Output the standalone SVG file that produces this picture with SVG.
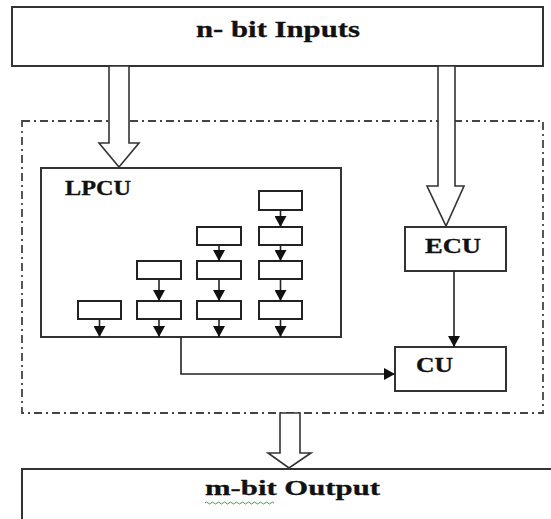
<svg xmlns="http://www.w3.org/2000/svg" width="551" height="519" viewBox="0 0 551 519">
<defs>
<style>
.box{fill:#fff;stroke:#333;stroke-width:2}
.cell{fill:#fff;stroke:#222;stroke-width:2}
.hollow{fill:#fff;stroke:#333;stroke-width:1.6;stroke-linejoin:miter}
.dash{fill:none;stroke:#444;stroke-width:1.8;stroke-dasharray:8 4 2 4}
.ln{fill:none;stroke:#222;stroke-width:1.6}
.lbl{font-family:"Liberation Serif","Times New Roman",serif;font-weight:bold;fill:#111;stroke:#111;stroke-width:0.3}
</style>
<marker id="ah" viewBox="0 0 10 10" refX="10" refY="5" markerWidth="11" markerHeight="12" markerUnits="userSpaceOnUse" orient="auto" preserveAspectRatio="none">
<path d="M0,0 L10,5 L0,10 z" fill="#111"/>
</marker>
</defs>
<rect width="551" height="519" fill="#fff"/>

<g id="container">
<rect class="dash" x="22" y="121" width="521" height="292"/>
</g>

<g id="inputs">
<rect class="box" x="12" y="7" width="531" height="59"/>
<text class="lbl" x="196" y="37" font-size="23" textLength="164" lengthAdjust="spacingAndGlyphs">n- bit Inputs</text>
</g>

<g id="lpcu">
<rect class="box" x="41" y="168" width="300" height="169"/>
<text class="lbl" x="65" y="195" font-size="20" textLength="66" lengthAdjust="spacingAndGlyphs">LPCU</text>
<g id="cells">
<rect class="cell" x="78" y="301" width="43" height="18"/>
<rect class="cell" x="137" y="261" width="44" height="18"/>
<rect class="cell" x="137" y="301" width="44" height="18"/>
<rect class="cell" x="197" y="227" width="44" height="18"/>
<rect class="cell" x="197" y="261" width="44" height="18"/>
<rect class="cell" x="197" y="301" width="44" height="18"/>
<rect class="cell" x="259" y="191" width="43" height="19"/>
<rect class="cell" x="259" y="227" width="43" height="18"/>
<rect class="cell" x="259" y="261" width="43" height="18"/>
<rect class="cell" x="259" y="301" width="43" height="18"/>
</g>
</g>

<g id="ecu">
<rect class="box" x="405" y="227" width="101" height="44"/>
<text class="lbl" x="425" y="253" font-size="20" textLength="56" lengthAdjust="spacingAndGlyphs">ECU</text>
</g>

<g id="cu">
<rect class="box" x="395" y="347" width="111" height="44"/>
<text class="lbl" x="416" y="372" font-size="20" textLength="37" lengthAdjust="spacingAndGlyphs">CU</text>
</g>

<g id="output">
<rect class="box" x="22" y="469" width="540" height="60"/>
<text class="lbl" x="205" y="495" font-size="22" textLength="175" lengthAdjust="spacingAndGlyphs">m-bit Output</text>
<path d="M205,503 q1.5,-2 3,0 t3,0 t3,0 t3,0 t3,0 t3,0 t3,0 t3,0 t3,0 t3,0 t3,0 t3,0 t3,0 t3,0 t3,0 t3,0 t3,0 t3,0 t3,0 t3,0 t3,0 t3,0 t3,0" fill="none" stroke="#3a3" stroke-width="1"/>
</g>

<g id="connectors">
<polygon class="hollow" points="109,66 129,66 129,143 139,143 119,167 99,143 109,143"/>
<polygon class="hollow" points="438,66 455,66 455,186 464,186 446,226 427,186 438,186"/>
<polygon class="hollow" points="280,413 300,413 300,453 311,453 289,468 268,453 280,453"/>
<line class="ln" x1="99.5" y1="319" x2="99.5" y2="337" marker-end="url(#ah)"/>
<line class="ln" x1="159" y1="279" x2="159" y2="301" marker-end="url(#ah)"/>
<line class="ln" x1="159" y1="319" x2="159" y2="337" marker-end="url(#ah)"/>
<line class="ln" x1="219" y1="245" x2="219" y2="261" marker-end="url(#ah)"/>
<line class="ln" x1="219" y1="279" x2="219" y2="301" marker-end="url(#ah)"/>
<line class="ln" x1="219" y1="319" x2="219" y2="337" marker-end="url(#ah)"/>
<line class="ln" x1="280.5" y1="210" x2="280.5" y2="227" marker-end="url(#ah)"/>
<line class="ln" x1="280.5" y1="245" x2="280.5" y2="261" marker-end="url(#ah)"/>
<line class="ln" x1="280.5" y1="279" x2="280.5" y2="301" marker-end="url(#ah)"/>
<line class="ln" x1="280.5" y1="319" x2="280.5" y2="337" marker-end="url(#ah)"/>
<line class="ln" x1="454" y1="271" x2="454" y2="347" marker-end="url(#ah)"/>
<polyline class="ln" points="181,337 181,374 395,374" marker-end="url(#ah)"/>
</g>
</svg>
